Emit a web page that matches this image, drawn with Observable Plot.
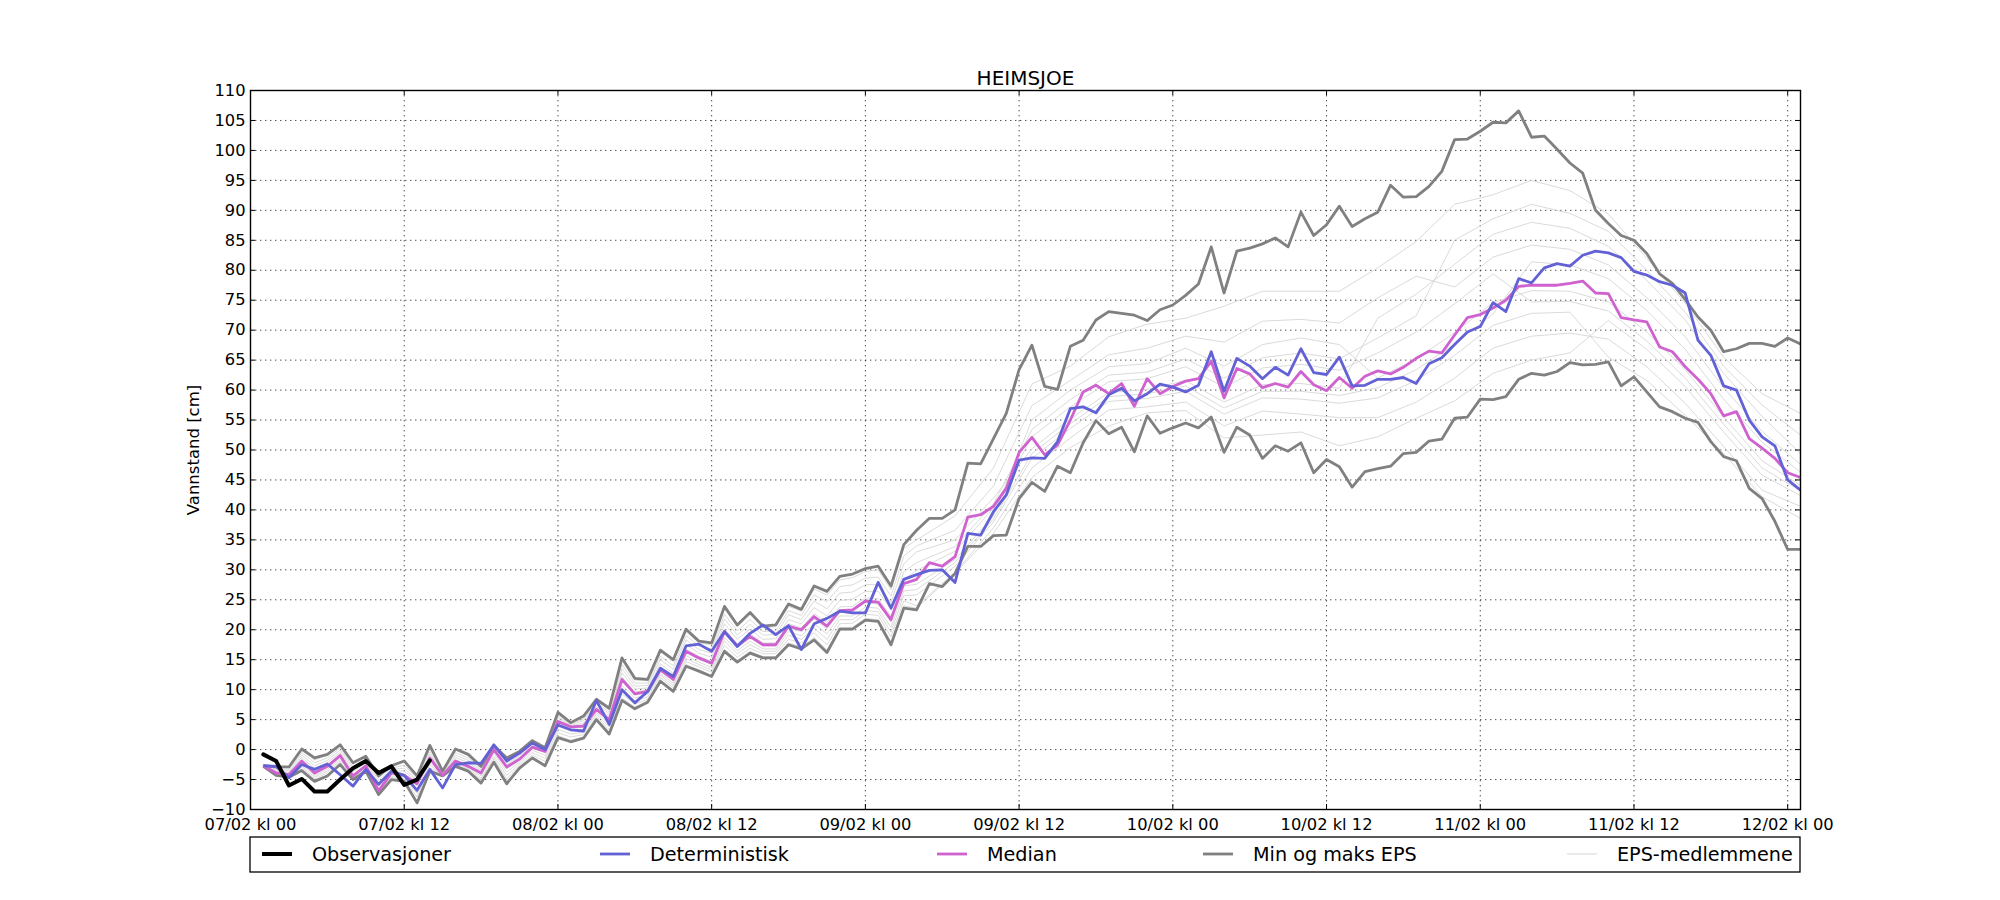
<!DOCTYPE html>
<html>
<head>
<meta charset="utf-8">
<script src="https://cdn.jsdelivr.net/npm/d3@7"></script>
<script src="https://cdn.jsdelivr.net/npm/@observablehq/plot@0.6"></script>
<style>
  body { margin: 0; background: #fff; }
  #wrap { position: relative; width: 2000px; height: 900px; font-family: "DejaVu Sans", sans-serif; }
  #wrap svg { display: block; }
</style>
</head>
<body>
<div id="wrap"></div>
<script>
// ---------------- DATA (hourly values from 07/02 kl 01) ----------------
const title = "HEIMSJOE";
const yLabel = "Vannstand [cm]";

const obs = [-0.8,-1.9,-6.0,-4.9,-7.0,-7.0,-5.0,-3.1,-1.9,-3.9,-2.8,-5.9,-5.0,-1.8];

const det = [
  -2.7,-2.8,-4.7,-2.5,-3.3,-2.4,-4.2,-6.1,-3.3,-5.8,
  -3.6,-4.3,-6.8,-3.3,-6.4,-2.5,-2.2,-2.3,0.8,-1.9,
  -0.6,1.1,0,4.1,3.3,3.1,8.2,4.2,10,7.8,
  9.7,13.6,12.2,17.3,17.6,16.4,19.7,17.2,19.4,20.8,
  19.2,20.7,16.7,21,21.9,23.1,22.8,22.8,27.9,23.6,
  28.4,29.2,29.9,30,27.9,36.1,35.8,39.7,42.5,48.3,
  48.7,48.6,51.4,56.9,57.2,56.2,59.2,60.3,58.2,59.4,
  61,60.5,59.7,60.8,66.4,59.8,65.3,64,61.9,63.8,
  62.5,66.9,62.9,62.6,65.5,60.7,60.8,61.8,61.8,62.1,
  61.1,64.4,65.4,67.6,69.7,70.6,74.6,73.1,78.6,77.9,
  80.4,81.1,80.7,82.5,83.2,82.9,82.1,79.8,79.2,78.1,
  77.5,76.2,68.3,65.8,60.7,60,55,52.2,50.7,45,43.3
];

const median = [
  -2.7,-3.9,-4.2,-1.9,-3.9,-2.8,-1,-4.4,-2.7,-6.9,
  -3.9,-4.3,-5.7,-1.4,-4.3,-1.9,-2.8,-3.9,0,-2.9,
  -1.6,0.4,-0.3,4.7,3.8,3.9,6.7,5,11.7,9.3,
  9.7,13.3,11.7,16.4,15.3,14.4,19.7,17.3,18.9,17.5,
  17.5,20.6,20,22.2,20.6,23.2,23.3,24.8,24.6,21.7,
  27.7,28.4,31.2,30.6,32.2,38.8,39.2,40.6,43.6,49.6,
  52.1,49.2,50.8,55,59.7,60.8,59.4,61.1,57.3,61.9,
  59.4,60.6,61.5,61.9,64.8,58.7,63.6,62.7,60.4,61.1,
  60.5,63.1,60.9,59.9,62.1,60.3,62.3,63.2,62.7,63.8,
  65.3,66.5,66.2,69.2,72.1,72.6,73.7,75,77.3,77.5,
  77.5,77.5,77.8,78.2,76.2,76.1,72.1,71.7,71.4,67.2,
  66.4,63.9,61.8,59.4,55.7,56.4,51.9,50.3,48.6,46.2,45.4
];

const epsMax = [
  -2.7,-2.9,-2.9,0.1,-1.4,-0.8,0.8,-2.2,-1.1,-4.4,
  -2.7,-1.9,-4.4,0.7,-3.6,0.1,-0.8,-2.8,0.7,-1.4,
  -0.3,1.5,0.3,6.2,4.5,5.6,8.4,6.9,15.3,11.9,
  11.7,16.6,15,20.1,18.1,17.8,23.9,20.8,22.9,20.6,
  20.8,24.3,23.4,27.3,26.4,28.9,29.3,30.2,30.6,27.3,
  34.2,36.6,38.6,38.6,40,47.8,47.7,51.9,56.1,63.4,
  67.5,60.6,60.1,67.3,68.3,71.7,73.1,72.8,72.5,71.6,
  73.4,74.2,75.8,77.7,83.9,76.2,83.2,83.7,84.4,85.4,
  83.9,89.7,85.8,87.6,90.7,87.3,88.6,89.7,94.2,92.2,
  92.3,94,96.5,101.8,101.9,103.2,104.7,104.6,106.6,102.2,
  102.4,100.2,97.9,96.2,90,87.8,85.8,85,82.8,79.4,
  77.8,75.1,72.2,70,66.4,66.9,67.8,67.8,67.3,68.7,67.7
];

const epsMin = [
  -2.8,-4.3,-4.6,-3.5,-5.3,-4.4,-2.5,-5,-3.6,-7.5,
  -5,-5.3,-8.9,-3.6,-4.4,-2.8,-3.6,-5.6,-2.1,-5.7,
  -3.1,-1.4,-2.7,2,1.3,1.9,5,2.6,8.2,6.8,
  7.9,11.4,9.7,13.9,13.1,12.2,16.4,14.6,16.1,15.3,
  15.3,17.5,16.8,18.3,16.2,20.1,20.1,21.6,21.4,17.5,
  23.6,23.3,27.7,27.2,29.4,33.9,33.9,35.7,35.8,41.9,
  44.6,43.1,47.3,46.2,51.2,54.9,52.7,53.8,49.7,55.7,
  52.8,53.7,54.5,53.7,55.5,49.6,53.8,52.5,48.6,50.7,
  49.8,51.2,46.2,48.4,47.2,43.8,46.4,46.9,47.3,49.4,
  49.6,51.5,51.8,55.3,55.5,58.5,58.4,58.9,61.8,62.8,
  62.5,63.1,64.6,64.2,64.3,64.7,60.7,62.2,59.7,57.2,
  56.4,55.3,54.6,51.4,48.9,48.2,43.6,41.9,38.1,33.4,33.4
];

// EPS members (estimated): hours after 07/02 kl 00, one row of 10 members per listed hour
const epsHours = [
  1,2,3,4,5,6,7,8,9,10,11,12,13,14,15,16,17,18,19,20,
  21,22,23,24,25,26,27,28,29,30,31,32,33,34,35,36,37,38,39,40,
  41,42,43,44,45,46,47,48,49,50,51,
  52,55,58,61,64,67,70,73,76,79,82,85,88,91,94,97,100,103,106,109,112,115,118,121
];
const epsRows = [
  [-2.7,-2.7,-2.7,-2.7,-2.7,-2.7,-2.7,-2.8,-2.8,-2.8],
  [-3.0,-3.2,-3.4,-3.6,-3.8,-3.9,-4.0,-4.1,-4.2,-4.3],
  [-3.0,-3.3,-3.6,-3.8,-4.1,-4.2,-4.3,-4.4,-4.5,-4.6],
  [-0.1,-0.5,-0.9,-1.3,-1.7,-2.1,-2.4,-2.7,-3.0,-3.3],
  [-1.7,-2.2,-2.7,-3.2,-3.7,-4.0,-4.3,-4.6,-4.9,-5.2],
  [-1.0,-1.4,-1.8,-2.2,-2.6,-3.0,-3.3,-3.6,-3.9,-4.2],
  [0.6,0.3,-0.1,-0.5,-0.8,-1.2,-1.5,-1.8,-2.1,-2.4],
  [-2.4,-2.9,-3.3,-3.7,-4.2,-4.5,-4.6,-4.7,-4.8,-4.9],
  [-1.3,-1.6,-1.9,-2.2,-2.5,-2.8,-3.0,-3.2,-3.3,-3.5],
  [-4.7,-5.2,-5.7,-6.2,-6.7,-7.0,-7.1,-7.2,-7.3,-7.4],
  [-2.8,-3.1,-3.3,-3.5,-3.8,-4.0,-4.2,-4.5,-4.7,-4.9],
  [-2.1,-2.6,-3.1,-3.6,-4.1,-4.4,-4.6,-4.8,-5.0,-5.2],
  [-4.5,-4.8,-5.1,-5.3,-5.6,-6.0,-6.7,-7.3,-7.9,-8.6],
  [0.5,0.1,-0.4,-0.8,-1.2,-1.6,-2.1,-2.5,-3.0,-3.4],
  [-3.7,-3.8,-4.0,-4.1,-4.2,-4.3,-4.3,-4.4,-4.4,-4.4],
  [-0.1,-0.5,-0.9,-1.3,-1.7,-2.0,-2.2,-2.4,-2.5,-2.7],
  [-1.0,-1.4,-1.8,-2.2,-2.6,-2.9,-3.0,-3.2,-3.4,-3.5],
  [-2.9,-3.1,-3.4,-3.6,-3.8,-4.1,-4.4,-4.8,-5.1,-5.4],
  [0.6,0.5,0.4,0.2,0.1,-0.2,-0.6,-1.1,-1.5,-1.9],
  [-1.5,-1.8,-2.2,-2.5,-2.8,-3.2,-3.7,-4.3,-4.9,-5.4],
  [-0.4,-0.7,-1.0,-1.2,-1.5,-1.8,-2.1,-2.4,-2.7,-2.9],
  [1.4,1.2,1.0,0.7,0.5,0.2,-0.1,-0.5,-0.9,-1.2],
  [0.2,0.1,0.0,-0.1,-0.2,-0.5,-1.0,-1.5,-2.0,-2.5],
  [6.1,5.8,5.5,5.2,4.9,4.4,3.9,3.4,2.8,2.3],
  [4.4,4.3,4.2,4.0,3.9,3.6,3.1,2.6,2.1,1.6],
  [5.4,5.1,4.8,4.4,4.1,3.7,3.3,2.9,2.5,2.1],
  [8.2,7.9,7.6,7.2,6.9,6.5,6.2,5.9,5.5,5.2],
  [6.7,6.3,6.0,5.6,5.2,4.8,4.3,3.8,3.3,2.8],
  [14.9,14.2,13.5,12.8,12.1,11.4,10.7,10.0,9.3,8.6],
  [11.6,11.1,10.6,10.1,9.6,9.1,8.6,8.1,7.6,7.1],
  [11.5,11.1,10.7,10.3,9.9,9.5,9.2,8.8,8.4,8.1],
  [16.3,15.6,15.0,14.3,13.6,13.1,12.7,12.4,12.0,11.6],
  [14.7,14.0,13.4,12.7,12.0,11.5,11.1,10.7,10.3,9.9],
  [19.7,19.0,18.3,17.5,16.8,16.2,15.7,15.2,14.7,14.2],
  [17.8,17.3,16.7,16.1,15.6,15.1,14.6,14.2,13.8,13.3],
  [17.5,16.8,16.1,15.4,14.7,14.2,13.7,13.3,12.9,12.4],
  [23.5,22.6,21.8,21.0,20.1,19.4,18.7,18.1,17.4,16.7],
  [20.5,19.8,19.1,18.4,17.7,17.0,16.5,16.0,15.4,14.9],
  [22.5,21.7,20.9,20.1,19.3,18.6,18.1,17.5,16.9,16.4],
  [20.3,19.7,19.1,18.4,17.8,17.3,16.8,16.4,16.0,15.5],
  [20.5,19.8,19.2,18.5,17.8,17.3,16.8,16.4,16.0,15.5],
  [23.9,23.2,22.5,21.7,21.0,20.3,19.7,19.1,18.4,17.8],
  [23.1,22.4,21.7,21.0,20.3,19.7,19.0,18.4,17.8,17.1],
  [26.8,25.8,24.8,23.7,22.7,21.8,21.0,20.3,19.5,18.7],
  [25.8,24.7,23.5,22.3,21.2,20.2,19.3,18.4,17.5,16.6],
  [28.3,27.2,26.1,24.9,23.8,22.9,22.3,21.7,21.0,20.4],
  [28.7,27.5,26.3,25.1,23.9,23.0,22.3,21.7,21.1,20.4],
  [29.7,28.6,27.5,26.4,25.3,24.5,23.8,23.2,22.6,21.9],
  [30.0,28.8,27.6,26.4,25.2,24.3,23.6,23.0,22.4,21.7],
  [26.7,25.6,24.5,23.4,22.3,21.3,20.4,19.6,18.8,17.9],
  [33.6,32.3,31.0,29.7,28.4,27.3,26.5,25.7,24.8,24.0],
  [35.0,34.0,33.0,31.2,29.9,27.6,26.7,25.8,24.0,23.6],
  [39.0,36.6,35.0,33.9,33.1,31.7,31.2,30.6,29.6,29.5],
  [47.0,44.0,42.0,41.0,40.3,39.0,38.5,38.0,37.0,36.1],
  [61.0,57.4,50.2,53.4,52.2,55.0,49.4,48.6,47.0,45.4],
  [64.0,61.6,55.2,58.4,57.2,60.0,54.4,53.6,52.0,50.4],
  [68.9,65.9,59.6,62.5,61.4,63.9,58.9,58.1,56.7,54.0],
  [71.0,67.0,60.1,63.0,61.9,64.4,59.4,58.6,57.2,56.2],
  [72.0,69.0,61.6,65.2,63.9,67.0,60.7,59.8,58.0,56.6],
  [74.0,68.0,58.0,62.0,60.5,64.0,57.0,56.0,54.0,52.0],
  [76.5,71.5,60.9,65.4,63.7,67.6,59.8,58.7,56.5,52.5],
  [76.5,71.8,61.1,66.2,64.3,68.7,59.8,58.5,56.0,53.0],
  [76.5,71.2,60.3,65.2,63.3,67.6,59.1,57.8,55.4,50.7],
  [80.4,75.4,72.0,68.7,66.2,62.0,60.4,58.7,55.4,52.2],
  [84.8,79.0,76.0,72.4,69.7,65.2,63.4,61.6,58.0,55.3],
  [91.0,77.2,81.0,85.0,74.4,69.6,67.7,65.8,62.0,58.2],
  [92.6,82.2,86.0,88.6,79.4,74.6,72.7,70.8,67.0,62.8],
  [95.0,84.2,88.0,91.0,74.7,76.6,81.4,72.8,69.0,65.0],
  [93.3,83.5,87.0,89.5,74.8,76.5,80.9,73.0,69.5,66.2],
  [89.4,80.9,84.0,86.5,73.2,74.7,78.6,65.5,68.5,71.6],
  [82.0,75.4,78.3,80.0,68.2,69.7,73.3,61.6,63.9,66.8],
  [74.5,68.9,71.7,73.0,62.0,63.4,66.8,55.8,57.8,60.6],
  [65.5,60.4,62.8,64.0,54.3,55.5,58.5,49.4,50.6,53.0],
  [59.4,53.1,55.6,57.5,47.0,48.2,51.3,42.2,43.3,45.8],
  [56.1,47.6,49.4,52.5,43.2,44.1,46.3,38.6,40.6,42.4]
];

const yTicks = d3.range(-10, 111, 5);
const xTickHours = [0,12,24,36,48,60,72,84,96,108,120];
const xEndHour = 121;

const legendLabels = ["Observasjoner","Deterministisk","Median","Min og maks EPS","EPS-medlemmene"];

// ---------------- STYLE ----------------
const detColor = "#6262d6";
const medColor = "#d062d0";
const mmColor = "#808080";
const epsColor = "#d6d6d6";

// ---------------- BUILD ----------------
const t0 = Date.UTC(2020, 1, 7, 0);
const toDate = h => new Date(t0 + h * 3600e3);
const series = vals => vals.map((v, i) => ({t: toDate(i + 1), v}));
const epsData = epsHours.flatMap((h, i) => epsRows[i].map((v, k) => ({t: toDate(h), v, m: k})));
const xTicks = xTickHours.map(toDate);
const fmt = d3.utcFormat("%d/%m kl %H");

const W = 2000, Hh = 900, mL = 250, mR = 200, mT = 90, mB = 91;
const innerW = W - mL - mR, innerH = Hh - mT - mB;
const tick = 5;
const tickFont = 16.3;
const grid = {stroke: "#000", strokeOpacity: 1, strokeWidth: 0.7, strokeDasharray: "1.4,3.6"};
const lineOpts = {x: "t", y: "v", strokeWidth: 2.8, strokeLinejoin: "round", strokeLinecap: "butt"};

const chart = Plot.plot({
  width: W, height: Hh,
  marginLeft: mL, marginRight: mR, marginTop: mT, marginBottom: mB,
  style: {fontFamily: "DejaVu Sans", fontSize: tickFont + "px", color: "#000", background: "#fff"},
  x: {type: "utc", domain: [toDate(0), toDate(xEndHour)]},
  y: {domain: [-10, 110]},
  marks: [
    Plot.gridY(yTicks, grid),
    Plot.gridX(xTicks, grid),
    Plot.line(epsData, {x: "t", y: "v", z: "m", stroke: epsColor, strokeWidth: 0.9}),
    Plot.line(series(epsMin), {...lineOpts, stroke: mmColor}),
    Plot.line(series(epsMax), {...lineOpts, stroke: mmColor}),
    Plot.line(series(median), {...lineOpts, stroke: medColor}),
    Plot.line(series(det), {...lineOpts, stroke: detColor}),
    Plot.line(series(obs), {x: "t", y: "v", stroke: "#000", strokeWidth: 4, strokeLinejoin: "round"}),
    Plot.frame({stroke: "#000", strokeWidth: 1.4}),
    // inward tick marks on all four sides
    Plot.tickY(yTicks, {y: d => d, stroke: "#000", strokeWidth: 1, insetRight: innerW - tick}),
    Plot.tickY(yTicks, {y: d => d, stroke: "#000", strokeWidth: 1, insetLeft: innerW - tick}),
    Plot.tickX(xTicks, {x: d => d, stroke: "#000", strokeWidth: 1, insetTop: innerH - tick}),
    Plot.tickX(xTicks, {x: d => d, stroke: "#000", strokeWidth: 1, insetBottom: innerH - tick}),
    Plot.axisY(yTicks, {tickSize: 0, tickPadding: 5, fontSize: tickFont, label: null}),
    Plot.axisX(xTicks, {tickSize: 0, tickPadding: 9, fontSize: tickFont, label: null, tickFormat: fmt}),
    Plot.text([yLabel], {text: d => d, frameAnchor: "left", dx: -57, rotate: -90, textAnchor: "middle", lineAnchor: "middle", fontSize: 16.5}),
    Plot.text([title], {text: d => d, frameAnchor: "top", dy: -6, textAnchor: "middle", lineAnchor: "bottom", fontSize: 20})
  ]
});

const wrap = document.getElementById("wrap");
wrap.appendChild(chart);

// ---------------- LEGEND (below the axes) ----------------
const leg = d3.select(wrap).append("svg")
  .attr("width", W).attr("height", Hh)
  .style("position", "absolute").style("left", "0px").style("top", "0px")
  .style("pointer-events", "none")
  .attr("font-family", "DejaVu Sans");
leg.append("rect").attr("x", mL).attr("y", 837).attr("width", innerW).attr("height", 35)
  .attr("fill", "#fff").attr("stroke", "#000").attr("stroke-width", 1.3);
const legColors = ["#000", detColor, medColor, mmColor, epsColor];
const legWidths = [4, 2.8, 2.8, 2.8, 1];
const legX = [262, 600, 937, 1203, 1567];
legendLabels.forEach((lab, i) => {
  leg.append("line").attr("x1", legX[i]).attr("x2", legX[i] + 30)
    .attr("y1", 854).attr("y2", 854)
    .attr("stroke", legColors[i]).attr("stroke-width", legWidths[i]);
  leg.append("text").attr("x", legX[i] + 50).attr("y", 860.5)
    .attr("font-size", 19.2).attr("fill", "#000").text(lab);
});
</script>
</body>
</html>
